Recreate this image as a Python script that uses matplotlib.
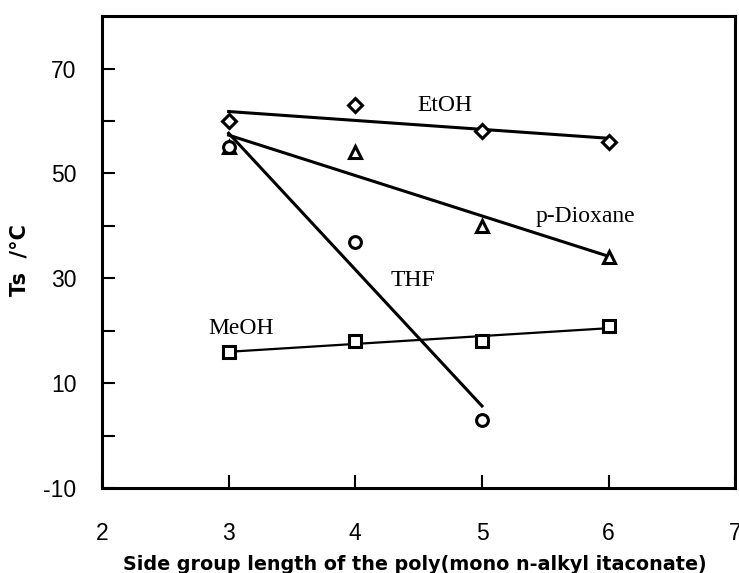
import matplotlib.pyplot as plt
import numpy as np

plt.rcParams['axes.unicode_minus'] = False

# side group length (number of carbons)
etoh_x = [3, 4, 5, 6]
etoh_y = [60, 63, 58, 56]

diox_x = [3, 4, 5, 6]
diox_y = [55, 54, 40, 34]

thf_x = [3, 4, 5]
thf_y = [55, 37, 3]

meoh_x = [3, 4, 5, 6]
meoh_y = [16, 18, 18, 21]

x_ticks = [2, 3, 4, 5, 6, 7]
y_ticks = [-10, 10, 30, 50, 70]

fig = plt.figure(figsize=(7.39, 5.73), dpi=100)
ax = fig.add_axes([0.138, 0.148, 0.857, 0.824])

series = [
    (etoh_x, etoh_y, "D", 7, 2.2),
    (diox_x, diox_y, "^", 8.5, 2.2),
    (thf_x, thf_y, "o", 8.5, 2.2),
    (meoh_x, meoh_y, "s", 8.5, 1.6),
]
for xs, ys, m, ms, lw in series:
    xs = np.array(xs, dtype=float)
    ys = np.array(ys, dtype=float)
    k, b = np.polyfit(xs, ys, 1)
    xf = np.array([xs.min(), xs.max()])
    ax.plot(xf, k * xf + b, color="black", lw=lw, zorder=2)
    ax.plot(xs, ys, m, ms=ms, mfc="white", mec="black", mew=2.2, zorder=3)

serif = dict(family="Liberation Serif", fontsize=17, va="center", ha="left")
ax.text(4.49, 63.0, "EtOH", **serif)
ax.text(5.42, 41.7, "p-Dioxane", **serif)
ax.text(4.275, 29.5, "THF", **serif)
ax.text(2.84, 20.4, "MeOH", **serif)

ax.set_xlim(2, 7)
ax.set_ylim(-10, 80)
ax.set_xticks(x_ticks)
ax.set_yticks(y_ticks)
ax.set_yticks(np.arange(0, 70, 20), minor=True)
ax.tick_params(axis="both", which="both", direction="in", length=9.5, width=1.5,
               labelsize=16.5)
ax.tick_params(axis="x", pad=24.5)
ax.tick_params(axis="y", pad=18.5)
for lab in ax.get_xticklabels() + ax.get_yticklabels():
    lab.set_family("Liberation Sans")
for sp in ax.spines.values():
    sp.set_linewidth(2.2)

ax.set_xlabel("Side group length of the poly(mono n-alkyl itaconate)",
              family="DejaVu Sans", fontweight="bold", fontsize=13.8)
ax.xaxis.set_label_coords(0.494, -0.142)
ax.set_ylabel("Ts  /\u00b0C", family="DejaVu Sans", fontweight="bold", fontsize=15)
ax.yaxis.set_label_coords(-0.1295, 0.483)
ax.yaxis.label.set_verticalalignment("center")
ax.yaxis.label.set_horizontalalignment("center")

fig.savefig("out.png", dpi=100)
